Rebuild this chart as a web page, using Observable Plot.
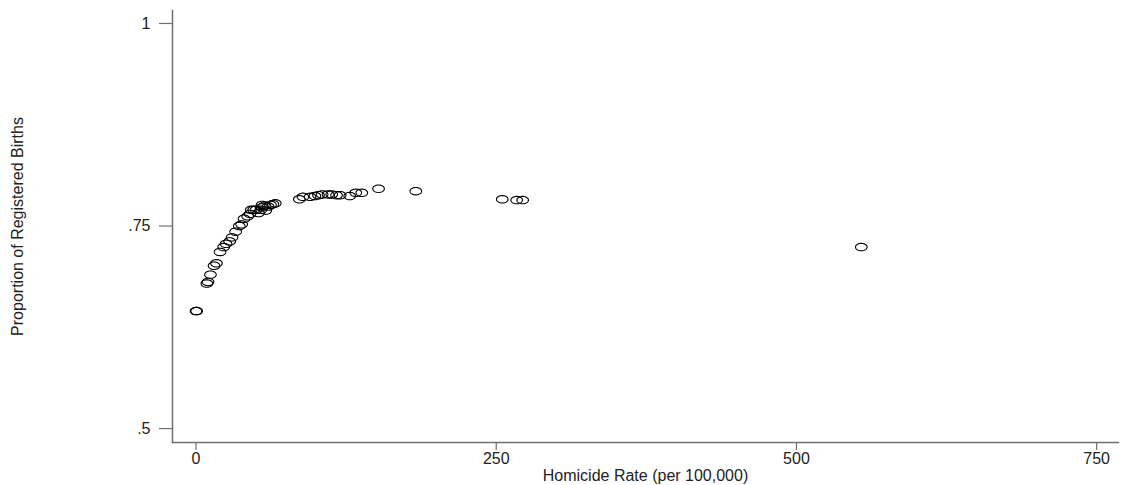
<!DOCTYPE html>
<html>
<head>
<meta charset="utf-8">
<script src="https://cdn.jsdelivr.net/npm/d3@7"></script>
<script src="https://cdn.jsdelivr.net/npm/@observablehq/plot@0.6"></script>
<style>
  html, body { margin: 0; padding: 0; background: #fff; }
  #chart svg { display: block; }
</style>
</head>
<body>
<div id="chart"></div>
<script>
// Homicide rate (per 100,000)
const homicide = [0, 0.5, 9, 10, 12, 15, 17, 20, 23, 25, 28, 30, 33, 36, 38, 40, 43, 45, 46, 48,
  50, 52, 54, 55, 55, 57, 58, 60, 62, 64, 66,
  86, 89, 95, 99, 102, 105, 110, 113, 117, 120, 128, 133, 138, 152, 183, 255, 267, 272, 554];
// Proportion of registered births
const registered = [0.645, 0.645, 0.679, 0.681, 0.690, 0.701, 0.704, 0.718, 0.724, 0.728, 0.731, 0.736, 0.743, 0.750, 0.752, 0.759, 0.762, 0.765, 0.770, 0.770,
  0.770, 0.766, 0.770, 0.773, 0.776, 0.775, 0.769, 0.774, 0.776, 0.777, 0.778,
  0.783, 0.786, 0.786, 0.787, 0.788, 0.789, 0.789, 0.789, 0.788, 0.788, 0.787, 0.791, 0.791, 0.796, 0.793, 0.783, 0.782, 0.782, 0.724];
const xTicks = [0, 250, 500, 750];
const yTicks = [0.5, 0.75, 1];
const yTickLabels = [".5", ".75", "1"];

const data = homicide.map((h, i) => ({h, p: registered[i]}));

const ellipse = {
  draw(ctx, size) {
    const r = Math.sqrt(size / Math.PI);
    const rx = r, ry = r * 0.64, n = 48;
    for (let i = 0; i <= n; i++) {
      const a = (i / n) * 2 * Math.PI;
      const px = rx * Math.cos(a), py = ry * Math.sin(a);
      if (i === 0) ctx.moveTo(px, py); else ctx.lineTo(px, py);
    }
    ctx.closePath();
  }
};

const axisColor = "#6f6f6f";
const chart = Plot.plot({
  width: 1122,
  height: 485,
  marginLeft: 172,
  marginRight: 4,
  marginTop: 10,
  marginBottom: 43,
  style: {fontFamily: "'Liberation Sans', Arial, sans-serif", fontSize: "16px", color: "#222", background: "#fff"},
  x: {domain: [-19.6, 768.2]},
  y: {domain: [0.4828, 1.016]},
  marks: [
    Plot.frame({anchor: "left", stroke: axisColor, strokeWidth: 1.5}),
    Plot.frame({anchor: "bottom", stroke: axisColor, strokeWidth: 1.5}),
    Plot.axisX({ticks: xTicks, tickSize: 8, tickPadding: 2, stroke: axisColor, strokeWidth: 1.2, label: null, fontSize: 16}),
    Plot.axisY({ticks: yTicks, tickFormat: (d) => yTickLabels[yTicks.indexOf(d)], tickSize: 13, tickPadding: 9, stroke: axisColor, strokeWidth: 1.2, label: null, fontSize: 16}),
    Plot.text(["Homicide Rate (per 100,000)"], {frameAnchor: "bottom", dy: 38, fontSize: 16, fill: "#222"}),
    Plot.text(["Proportion of Registered Births"], {frameAnchor: "left", textAnchor: "middle", dx: -155, rotate: -90, fontSize: 16, fill: "#222"}),
    Plot.dot(data, {x: "h", y: "p", r: 5.8, symbol: ellipse, stroke: "black", strokeWidth: 1.1, fill: "none"})
  ]
});
document.getElementById("chart").appendChild(chart);
</script>
</body>
</html>
